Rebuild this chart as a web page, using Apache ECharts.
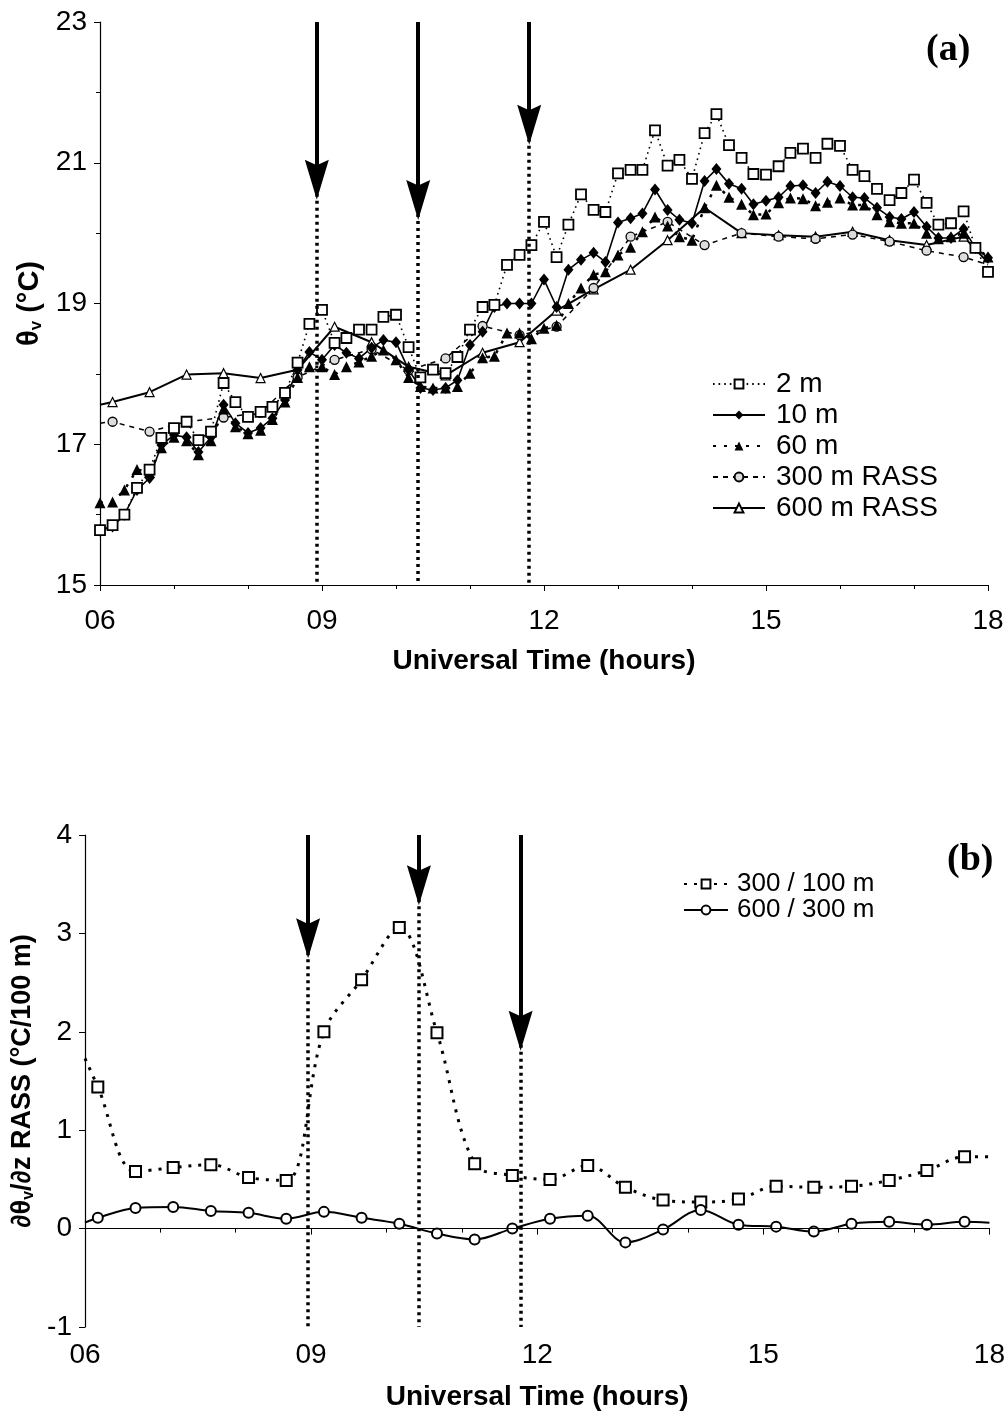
<!DOCTYPE html>
<html>
<head>
<meta charset="utf-8">
<script src="https://cdn.jsdelivr.net/npm/echarts@6/dist/echarts.min.js"></script>
<style>
  html, body { margin: 0; background: #fff; }
  #chart { width: 1008px; height: 1416px; }
</style>
</head>
<body>
<div id="chart"></div>
<script>
// (a) tower / surface data, 10-min samples (UT hours)
const towerTimes = [6.00,6.17,6.33,6.50,6.67,6.83,7.00,7.17,7.33,7.50,7.67,7.83,8.00,8.17,8.33,8.50,8.67,8.83,
  9.00,9.17,9.33,9.50,9.67,9.83,10.00,10.17,10.33,10.50,10.67,10.83,11.00,11.17,11.33,11.50,11.67,11.83,
  12.00,12.17,12.33,12.50,12.67,12.83,13.00,13.17,13.33,13.50,13.67,13.83,14.00,14.17,14.33,14.50,14.67,14.83,
  15.00,15.17,15.33,15.50,15.67,15.83,16.00,16.17,16.33,16.50,16.67,16.83,17.00,17.17,17.33,17.50,17.67,17.83,18.00]
const theta2m = [15.78,15.85,16.00,16.38,16.64,17.09,17.23,17.32,17.06,17.18,17.87,17.60,17.39,17.46,17.53,17.73,18.16,18.71,
  18.91,18.44,18.51,18.63,18.63,18.81,18.84,18.38,17.95,18.06,18.01,18.24,18.63,18.95,18.98,19.55,19.69,19.83,
  20.16,19.66,20.12,20.55,20.33,20.30,20.85,20.90,20.90,21.46,20.96,21.04,20.77,21.42,21.69,21.25,21.07,20.84,
  20.83,20.95,21.14,21.20,21.07,21.27,21.24,20.90,20.81,20.63,20.47,20.57,20.76,20.43,20.12,20.14,20.31,19.79,19.45]
const theta10m = [15.77,15.83,16.00,16.35,16.52,16.99,17.13,17.10,16.89,17.10,17.56,17.30,17.16,17.23,17.37,17.63,18.06,18.31,
  18.20,18.41,18.30,18.22,18.37,18.48,18.45,18.06,17.80,17.77,17.80,17.91,18.41,18.60,18.95,19.00,19.00,19.00,
  19.34,18.95,19.48,19.62,19.72,19.59,20.15,20.21,20.28,20.62,20.33,20.19,20.14,20.74,20.91,20.70,20.63,20.41,
  20.46,20.51,20.67,20.68,20.57,20.73,20.67,20.51,20.50,20.36,20.23,20.20,20.30,20.09,19.93,19.93,20.06,19.79,19.65]
const theta60m = [16.17,16.18,16.35,16.64,16.60,16.95,17.10,17.05,16.85,17.05,17.50,17.25,17.15,17.20,17.35,17.60,17.95,18.10,
  18.10,17.99,18.10,18.17,18.25,18.34,18.20,17.95,17.82,17.80,17.80,17.82,18.01,18.23,18.25,18.58,18.58,18.50,
  18.65,18.69,19.00,19.22,19.41,19.45,19.69,19.80,20.02,20.23,20.10,19.95,19.90,20.36,20.68,20.51,20.41,20.26,
  20.27,20.43,20.50,20.49,20.39,20.44,20.50,20.40,20.40,20.26,20.16,20.14,20.14,20.00,19.92,19.95,20.00,19.80,19.66]

// RASS, 30-min samples; first and last values are where the curves meet the plot edges
const rassTimes = [6.00,6.17,6.67,7.17,7.67,8.17,8.67,9.17,9.67,10.17,10.67,11.17,11.67,12.17,12.67,13.17,13.67,
  14.17,14.67,15.17,15.67,16.17,16.67,17.17,17.67,18.00]
const theta300 = [17.30,17.32,17.18,17.32,17.38,17.45,17.95,18.20,18.35,18.05,18.22,18.68,18.55,18.67,19.22,19.95,20.16,
  19.83,20.00,19.95,19.92,19.98,19.88,19.75,19.66,19.55]
const theta600 = [17.56,17.60,17.74,17.99,18.01,17.94,18.06,18.67,18.45,18.10,17.98,18.30,18.45,18.90,19.20,19.48,19.90,
  20.36,20.00,19.97,19.95,20.02,19.90,19.83,19.95,19.58]

// (b) lapse rates from RASS (°C/100 m)
const grad300 = [1.73,1.44,0.58,0.62,0.65,0.52,0.49,2.00,2.53,3.06,1.99,0.66,0.54,0.50,0.64,0.42,0.29,
  0.27,0.30,0.43,0.42,0.43,0.49,0.59,0.73,0.73]
const grad600 = [0.06,0.11,0.21,0.22,0.18,0.16,0.10,0.17,0.11,0.05,-0.05,-0.11,0.00,0.10,0.13,-0.14,-0.01,
  0.19,0.04,0.02,-0.03,0.05,0.07,0.04,0.07,0.06]

// event arrows: time and centre of arrow head
const arrowTimesA = [8.93, 10.30, 11.80]
const arrowHeadsA = [20.76, 20.47, 21.54]
const arrowTimesB = [8.96, 10.43, 11.78]
const arrowHeadsB = [2.95, 3.49, 2.01]

const xTicks = ['06', '09', '12', '15', '18']

const FONT = 'Liberation Sans, Arial, sans-serif'
const HEAD = 'path://M5,0 L10,18 L5,15.5 L0,18 Z'

const pairs = (xs, ys) => xs.map((x, i) => [x, ys[i]])
const edgeless = (xs, ys) => xs.map((x, i) =>
  (i === 0 || i === xs.length - 1) ? { value: [x, ys[i]], symbol: 'none' } : [x, ys[i]])

function arrowLines(times, heads, top, bottom) {
  const dotted = times.map((t, i) => [
    { coord: [t, heads[i]], symbol: 'none', lineStyle: { type: [3, 4], width: 3.5, color: '#000' } },
    { coord: [t, bottom], symbol: 'none', lineStyle: { type: [3, 4], width: 3.5, color: '#000' } }
  ])
  const solid = times.map((t, i) => [
    { coord: [t, top], symbol: 'none', lineStyle: { type: 'solid', width: 4, color: '#000' } },
    { coord: [t, heads[i]], symbol: HEAD, symbolSize: [24, 40], lineStyle: { type: 'solid', width: 4, color: '#000' } }
  ])
  return dotted.concat(solid)
}

function xAxisFor(grid, margin, gap) {
  return {
    gridIndex: grid, type: 'value', min: 6, max: 18, interval: 3,
    axisLine: { lineStyle: { color: '#000', width: 1.2 } },
    axisTick: { length: 6, lineStyle: { color: '#000' } },
    minorTick: { show: true, splitNumber: 3, length: 4, lineStyle: { color: '#000' } },
    splitLine: { show: false },
    axisLabel: { color: '#000', fontSize: 28, margin: margin, formatter: v => xTicks[Math.round((v - 6) / 3)] },
    name: 'Universal Time (hours)', nameLocation: 'middle', nameGap: gap,
    nameTextStyle: { color: '#000', fontSize: 28, fontWeight: 'bold' }
  }
}

const chart = echarts.init(document.getElementById('chart'))

const option = {
  animation: false,
  backgroundColor: '#fff',
  textStyle: { fontFamily: FONT, color: '#000' },
  title: [
    { text: '(a)', left: 921, top: 26, textStyle: { fontFamily: 'Liberation Serif', fontWeight: 'bold', fontSize: 38, color: '#000' } },
    { text: '(b)', left: 942, top: 836, textStyle: { fontFamily: 'Liberation Serif', fontWeight: 'bold', fontSize: 38, color: '#000' } }
  ],
  legend: [
    {
      data: ['2 m', '10 m', '60 m', '300 m RASS', '600 m RASS'],
      orient: 'vertical', left: 712, top: 369, padding: 0,
      itemWidth: 52, itemHeight: 11, itemGap: 1, selectedMode: false,
      textStyle: { fontSize: 28, lineHeight: 30, color: '#000', padding: [0, 0, 0, 6] }
    },
    {
      data: ['300 / 100 m', '600 / 300 m'],
      orient: 'vertical', left: 683, top: 871, padding: 0,
      itemWidth: 44, itemHeight: 11, itemGap: 0, selectedMode: false,
      textStyle: { fontSize: 26, lineHeight: 21, color: '#000', padding: [0, 0, 0, 4] }
    }
  ],
  grid: [
    { left: 100, right: 20, top: 22, height: 563 },
    { left: 85, right: 16, top: 835, height: 492 }
  ],
  xAxis: [xAxisFor(0, 22, 62), xAxisFor(1, 14, 56)],
  yAxis: [
    {
      gridIndex: 0, type: 'value', min: 15, max: 23, interval: 2,
      axisLine: { show: true, lineStyle: { color: '#000', width: 1.2 } },
      axisTick: { show: true, length: 6, lineStyle: { color: '#000' } },
      minorTick: { show: true, splitNumber: 2, length: 4, lineStyle: { color: '#000' } },
      splitLine: { show: false },
      axisLabel: { color: '#000', fontSize: 28, margin: 13 },
      name: 'θ{s|v} (°C)', nameLocation: 'middle', nameGap: 55,
      nameTextStyle: { color: '#000', fontSize: 29, fontWeight: 'bold',
        rich: { s: { fontSize: 17, fontWeight: 'bold', verticalAlign: 'bottom' } } }
    },
    {
      gridIndex: 1, type: 'value', min: -1, max: 4, interval: 1,
      axisLine: { show: true, lineStyle: { color: '#000', width: 1.2 } },
      axisTick: { show: true, length: 6, lineStyle: { color: '#000' } },
      splitLine: { show: false },
      axisLabel: { color: '#000', fontSize: 28, margin: 13 },
      name: '∂θ{s|v}/∂z RASS (°C/100 m)', nameLocation: 'middle', nameGap: 41,
      nameTextStyle: { color: '#000', fontSize: 27, fontWeight: 'bold',
        rich: { s: { fontSize: 16, fontWeight: 'bold', verticalAlign: 'bottom' } } }
    }
  ],
  series: [
    {
      name: '600 m RASS', type: 'line', xAxisIndex: 0, yAxisIndex: 0,
      data: edgeless(rassTimes, theta600),
      symbol: 'triangle', symbolSize: 9,
      itemStyle: { color: '#fff', borderColor: '#000', borderWidth: 1.2 },
      lineStyle: { color: '#000', width: 2 }
    },
    {
      name: '300 m RASS', type: 'line', xAxisIndex: 0, yAxisIndex: 0,
      data: edgeless(rassTimes, theta300),
      symbol: 'circle', symbolSize: 9,
      itemStyle: { color: '#ddd', borderColor: '#000', borderWidth: 1.3 },
      lineStyle: { color: '#000', width: 1.5, type: [5, 5] }
    },
    {
      name: '60 m', type: 'line', xAxisIndex: 0, yAxisIndex: 0,
      data: pairs(towerTimes, theta60m),
      symbol: 'triangle', symbolSize: 11,
      itemStyle: { color: '#000' },
      lineStyle: { color: '#000', width: 2.5, type: [3, 8] }
    },
    {
      name: '10 m', type: 'line', xAxisIndex: 0, yAxisIndex: 0,
      data: pairs(towerTimes, theta10m),
      symbol: 'diamond', symbolSize: [10, 12],
      itemStyle: { color: '#000' },
      lineStyle: { color: '#000', width: 1.6 }
    },
    {
      name: '2 m', type: 'line', xAxisIndex: 0, yAxisIndex: 0,
      data: pairs(towerTimes, theta2m),
      symbol: 'rect', symbolSize: 10,
      itemStyle: { color: '#fff', borderColor: '#000', borderWidth: 1.8 },
      lineStyle: { color: '#000', width: 1.6, type: [1.6, 4] }
    },
    {
      name: 'arrows a', type: 'line', xAxisIndex: 0, yAxisIndex: 0, data: [],
      markLine: {
        silent: true, animation: false, label: { show: false }, emphasis: { disabled: true },
        data: arrowLines(arrowTimesA, arrowHeadsA, 23, 15)
      }
    },
    {
      name: '300 / 100 m', type: 'line', xAxisIndex: 1, yAxisIndex: 1,
      data: edgeless(rassTimes, grad300), smooth: 0.35,
      symbol: 'rect', symbolSize: 11,
      itemStyle: { color: '#fff', borderColor: '#000', borderWidth: 2 },
      lineStyle: { color: '#000', width: 3, type: [3, 7] }
    },
    {
      name: '600 / 300 m', type: 'line', xAxisIndex: 1, yAxisIndex: 1,
      data: edgeless(rassTimes, grad600), smooth: 0.35,
      symbol: 'circle', symbolSize: 10,
      itemStyle: { color: '#fff', borderColor: '#000', borderWidth: 2 },
      lineStyle: { color: '#000', width: 2 }
    },
    {
      name: 'arrows b', type: 'line', xAxisIndex: 1, yAxisIndex: 1, data: [],
      markLine: {
        silent: true, animation: false, label: { show: false }, emphasis: { disabled: true },
        data: [[
          { coord: [6, 0], symbol: 'none', lineStyle: { type: 'solid', width: 1, color: '#000' } },
          { coord: [18, 0], symbol: 'none', lineStyle: { type: 'solid', width: 1, color: '#000' } }
        ]].concat(arrowLines(arrowTimesB, arrowHeadsB, 4, -1))
      }
    }
  ]
}

chart.setOption(option)
</script>
</body>
</html>
